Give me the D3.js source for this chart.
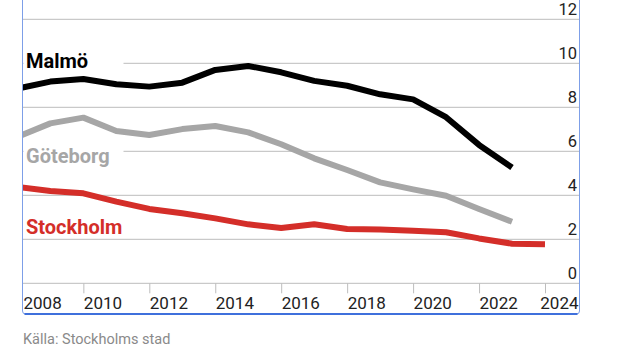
<!DOCTYPE html>
<html>
<head>
<meta charset="utf-8">
<script src="https://cdn.jsdelivr.net/npm/d3@7"></script>
<style>
  body { margin: 0; background: #fff; }
  svg { display: block; font-family: Roboto, "Liberation Sans", sans-serif; }
</style>
</head>
<body>
<svg width="624" height="351"></svg>
<script>
// Data
const years = [2008, 2009, 2010, 2011, 2012, 2013, 2014, 2015, 2016, 2017, 2018, 2019, 2020, 2021, 2022, 2023, 2024];
const malmo = [8.85, 9.17, 9.29, 9.05, 8.94, 9.12, 9.7, 9.88, 9.59, 9.2, 8.98, 8.59, 8.36, 7.55, 6.29, 5.26];
const goteborg = [6.65, 7.27, 7.53, 6.92, 6.74, 7.01, 7.15, 6.86, 6.32, 5.68, 5.15, 4.59, 4.27, 3.98, 3.38, 2.8];
const stockholm = [4.38, 4.2, 4.09, 3.71, 3.38, 3.18, 2.95, 2.68, 2.51, 2.68, 2.47, 2.45, 2.39, 2.32, 2.04, 1.8, 1.77];
const yTicks = [0, 2, 4, 6, 8, 10, 12];
const xTicks = [2008, 2010, 2012, 2014, 2016, 2018, 2020, 2022, 2024];

const series = [
    { name: "Malmö", values: malmo, color: "#000000", labelY: 68 },
    { name: "Göteborg", values: goteborg, color: "#a6a6a6", labelY: 162.5 },
    { name: "Stockholm", values: stockholm, color: "#d42e29", labelY: 234 }
];

const svg = d3.select("svg");
const left = 22.5, right = 579.5, bottom = 314;

const x = d3.scaleLinear().domain([2008, 2024]).range([17.4, 545]);
const y = d3.scaleLinear().domain([0, 12]).range([283.3, 19.3]);

svg.append("defs").append("clipPath").attr("id", "plot")
    .append("rect").attr("x", left).attr("y", 0).attr("width", right - left).attr("height", 300);

// Gridlines
svg.append("g").selectAll("line").data(yTicks).join("line")
    .attr("x1", left).attr("x2", right)
    .attr("y1", d => y(d)).attr("y2", d => y(d))
    .attr("stroke", "#c9c9c9").attr("stroke-width", 1.2);

// Y labels
svg.append("g").selectAll("text").data(yTicks).join("text")
    .attr("x", 577).attr("y", d => y(d) - 4.5)
    .attr("text-anchor", "end")
    .attr("font-size", 16.5).attr("fill", "#222")
    .text(d => d);

// X axis ticks
const xAxis = d3.axisBottom(x).tickValues(xTicks).tickSize(10).tickFormat(d3.format("d"));
const gx = svg.append("g").attr("transform", `translate(0,${y(0)})`).call(xAxis);
gx.select(".domain").remove();
gx.selectAll(".tick line").attr("stroke", "#bdbdbd")
    .attr("opacity", d => d === 2008 ? 0 : 1);
gx.selectAll(".tick text")
    .attr("font-family", "Roboto, sans-serif")
    .attr("font-size", 17).attr("fill", "#222")
    .attr("y", 26).attr("dy", 0)
    .attr("text-anchor", d => d === 2024 ? "end" : "start")
    .attr("dx", d => d === 2008 ? left + 0.5 - x(2008) : d === 2024 ? 578 - x(2024) : 0);

// Label backgrounds
svg.append("g").selectAll("rect").data(series.slice(0, 2)).join("rect")
    .attr("x", left + 1).attr("y", d => d.labelY - 17)
    .attr("width", 100).attr("height", 21)
    .attr("fill", "#fff");

// Lines
const line = d3.line()
    .x((d, i) => x(years[i]))
    .y(d => y(d))
    .curve(d3.curveLinear);

svg.append("g").attr("clip-path", "url(#plot)")
    .selectAll("path").data(series).join("path")
    .attr("d", d => line(d.values))
    .attr("fill", "none")
    .attr("stroke", d => d.color)
    .attr("stroke-width", 6)
    .attr("stroke-linejoin", "round");

// Labels
svg.append("g").selectAll("text").data(series).join("text")
    .attr("x", 26).attr("y", d => d.labelY)
    .attr("font-size", 20).attr("font-weight", "bold")
    .attr("fill", d => d.color)
    .text(d => d.name);

// Frame
svg.append("path")
    .attr("d", `M${left},-2 V${bottom - 3} Q${left},${bottom} ${left + 3},${bottom} H${right - 3} Q${right},${bottom} ${right},${bottom - 3} V-2`)
    .attr("fill", "none").attr("stroke", "#7d9fe8").attr("stroke-width", 1);
svg.append("line")
    .attr("x1", left + 2).attr("x2", right - 2)
    .attr("y1", bottom).attr("y2", bottom)
    .attr("stroke", "#3f70dc").attr("stroke-width", 2);

// Source
svg.append("text")
    .attr("x", 23).attr("y", 344)
    .attr("font-size", 14.5).attr("fill", "#8a8a8a")
    .text("Källa: Stockholms stad");
</script>
</body>
</html>
